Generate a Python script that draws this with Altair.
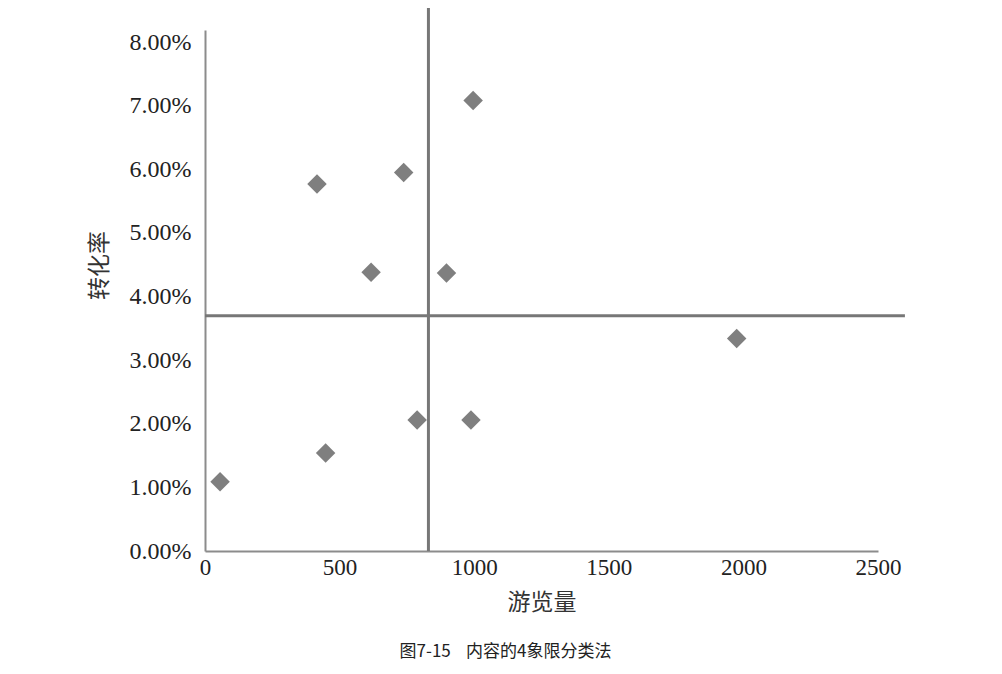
import altair as alt
import pandas as pd

# Data
visits = [56, 448, 416, 617, 738, 788, 897, 988, 996, 1975]
rates = [0.0109, 0.0154, 0.0577, 0.0438, 0.0595, 0.0206, 0.0437, 0.0206, 0.0708, 0.0334]
x_ticks = [0, 500, 1000, 1500, 2000, 2500]
y_ticks = [0, 0.01, 0.02, 0.03, 0.04, 0.05, 0.06, 0.07, 0.08]

# quadrant divider lines
split_x = [830]
split_x_span = [0, 0.086]
split_y = [0.037]
split_y_span = [0, 2600]

pts = pd.DataFrame({"游览量": visits, "转化率": rates})
vline = pd.DataFrame({"x": split_x, "y1": [split_x_span[0]], "y2": [split_x_span[1]]})
hline = pd.DataFrame({"y": split_y, "x1": [split_y_span[0]], "x2": [split_y_span[1]]})

serif = "Liberation Serif"
cjk = "Noto Sans CJK SC"

xscale = alt.Scale(domain=[0, 2500], nice=False, zero=True)
yscale = alt.Scale(domain=[0, 0.0819], nice=False, zero=True)

xaxis = alt.Axis(values=x_ticks, format="d", grid=False, ticks=False,
                 labelFont=serif, labelFontSize=23, labelColor="#222",
                 labelPadding=5, labelFlush=False, labelOverlap=False,
                 domainColor="#8c8c8c", domainWidth=2,
                 title="游览量", titleFont=cjk, titleFontSize=23,
                 titleFontWeight="normal", titleColor="#333",
                 titleBaseline="middle", titleY=51)
yaxis = alt.Axis(values=y_ticks, format=".2%", grid=False, ticks=False,
                 labelFont=serif, labelFontSize=24, labelColor="#222",
                 labelPadding=14, labelFlush=False, labelOverlap=False,
                 domainColor="#8c8c8c", domainWidth=2,
                 title="转化率", titleFont=cjk, titleFontSize=23,
                 titleFontWeight="normal", titleColor="#333",
                 titleAngle=-90, titleBaseline="middle", titleX=-106, titleY=235)

points = alt.Chart(pts).mark_point(shape="diamond", filled=True, size=380,
                                   color="#7f7f7f", opacity=1).encode(
    x=alt.X("游览量:Q", scale=xscale, axis=xaxis),
    y=alt.Y("转化率:Q", scale=yscale, axis=yaxis),
)

v = alt.Chart(vline).mark_rule(color="#777777", strokeWidth=3, clip=False).encode(
    x=alt.X("x:Q", scale=xscale),
    y=alt.Y("y1:Q", scale=yscale),
    y2="y2:Q",
)
h = alt.Chart(hline).mark_rule(color="#777777", strokeWidth=3, clip=False).encode(
    y=alt.Y("y:Q", scale=yscale),
    x=alt.X("x1:Q", scale=xscale),
    x2="x2:Q",
)

caption = "图7-15\u00a0\u00a0\u00a0\u00a0内容的4象限分类法"

chart = alt.layer(v, h, points).properties(
    width=673, height=521,
    background="white",
    autosize=alt.AutoSizeParams(type="none"),
    padding={"left": 197, "top": 22, "right": 100, "bottom": 120},
    title=alt.TitleParams(caption, orient="bottom",
                          anchor="middle", font=cjk, fontSize=17,
                          fontWeight="normal", color="#222", offset=30, dx=-36),
).configure_view(strokeWidth=0, stroke="transparent")

chart.save("out.html", embed_options={"renderer": "svg", "actions": False})
